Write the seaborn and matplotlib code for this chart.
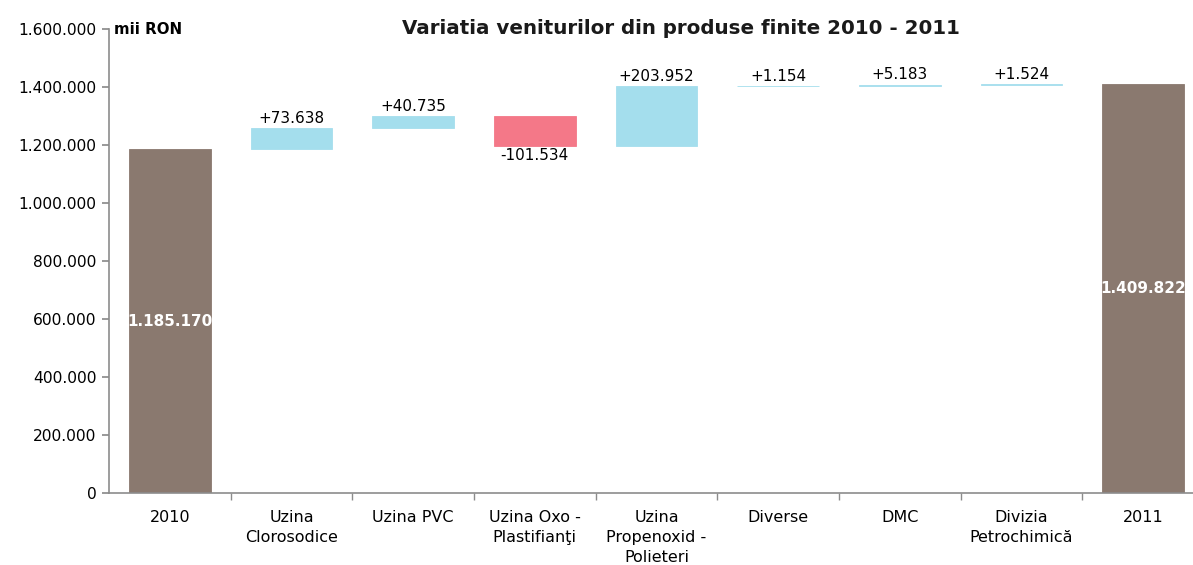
import numpy as np
import pandas as pd
import matplotlib
matplotlib.use("Agg")
import matplotlib.pyplot as plt
from matplotlib.ticker import FuncFormatter, FixedLocator
import seaborn as sns

categories = ["2010", "Uzina\nClorosodice", "Uzina PVC", "Uzina Oxo -\nPlastifianţi",
              "Uzina\nPropenoxid -\nPolieteri", "Diverse", "DMC", "Divizia\nPetrochimică", "2011"]
start_total = 1185170
deltas = [73638, 40735, -101534, 203952, 1154, 5183, 1524]
end_total = 1409822

col_total = "#8A796F"
col_up = "#A4DEED"
col_down = "#F47888"

# build floating-bar table
cum = start_total
bottoms = [0]
heights = [start_total]
kinds = ["total"]
for d in deltas:
    nxt = cum + d
    bottoms.append(min(cum, nxt))
    heights.append(abs(d))
    kinds.append("up" if d >= 0 else "down")
    cum = nxt
bottoms.append(0)
heights.append(end_total)
kinds.append("total")
df = pd.DataFrame({"cat": categories, "height": heights, "bottom": bottoms, "kind": kinds})
cmap = {"total": col_total, "up": col_up, "down": col_down}

sns.set_theme(style="white")
plt.rcParams["font.family"] = ["DejaVu Sans"]

fig = plt.figure(figsize=(11.93, 5.65), dpi=100)
ax = fig.add_axes([109 / 1193, 72 / 565, 1095 / 1193, 464 / 565])

sns.barplot(data=df, x="cat", y="height", bottom=df["bottom"].values, color=col_total,
            width=0.67, ax=ax, errorbar=None, order=categories)
for p, k in zip(ax.patches, df["kind"]):
    p.set_facecolor(cmap[k])
    p.set_edgecolor(cmap[k])
    p.set_linewidth(0.6)

ax.set_ylim(0, 1600000)
ax.set_xlim(-0.5, len(categories) - 0.5)
ax.yaxis.set_major_locator(FixedLocator(np.arange(0, 1600001, 200000)))
ax.yaxis.set_major_formatter(FuncFormatter(lambda v, p: f"{int(v):,}".replace(",", ".")))
ax.set_xlabel("")
ax.set_ylabel("")

for s in ["top", "right"]:
    ax.spines[s].set_visible(False)
for s in ["left", "bottom"]:
    ax.spines[s].set_color("#8C8C8C")
    ax.spines[s].set_linewidth(1.2)

ax.tick_params(axis="y", which="major", direction="out", length=5, color="#8C8C8C",
               labelsize=11.2, labelcolor="black", left=True, pad=4)
ax.tick_params(axis="x", which="major", length=0, labelsize=11.5, labelcolor="black", pad=12)
for lbl in ax.get_xticklabels():
    lbl.set_linespacing(1.45)
ax.set_xticks(np.arange(0.5, len(categories) - 0.5, 1), minor=True)
ax.tick_params(axis="x", which="minor", direction="out", length=5, color="#8C8C8C", bottom=True)

# value labels
for i, row in df.iterrows():
    if row["kind"] == "total":
        ax.text(i, row["height"] / 2, f"{int(row['height']):,}".replace(",", "."),
                ha="center", va="center", color="white", fontsize=11, fontweight="bold")
    else:
        d = deltas[i - 1]
        txt = ("+" if d >= 0 else "-") + f"{abs(d):,}".replace(",", ".")
        if d >= 0:
            ax.text(i, row["bottom"] + row["height"] + 8000, txt, ha="center", va="bottom",
                    fontsize=11, color="black")
        else:
            ax.text(i, row["bottom"] - 8000, txt, ha="center", va="top",
                    fontsize=11, color="black")

ax.text(0.005, 1600000, "mii RON", transform=ax.get_yaxis_transform(), ha="left", va="center",
        fontsize=10.8, fontweight="bold", color="black")

fig.text(681 / 1193, 1 - 28 / 565, "Variatia veniturilor din produse finite 2010 - 2011",
         ha="center", va="center", fontsize=14.3, fontweight="bold", color="#1a1a1a")

fig.savefig("out.png", dpi=100)
